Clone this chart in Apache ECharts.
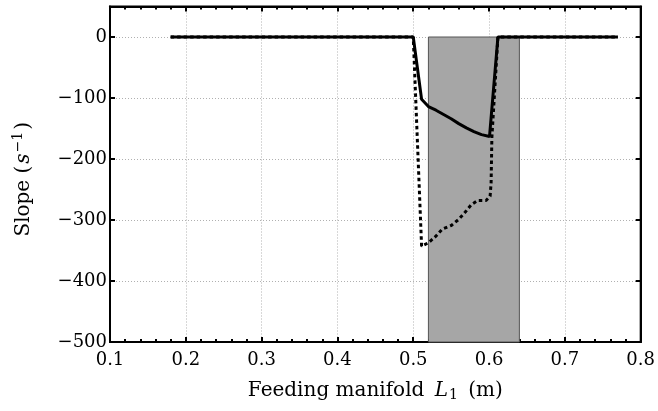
<!DOCTYPE html>
<html>
<head>
<meta charset="utf-8">
<script src="https://cdn.jsdelivr.net/npm/echarts@6/dist/echarts.min.js"></script>
<style>html,body{margin:0;padding:0;background:#fff;}#c{width:658px;height:411px;}</style>
</head>
<body>
<div id="c"></div>
<script>
// Tick labels
var xTicks = [0.1, 0.2, 0.3, 0.4, 0.5, 0.6, 0.7, 0.8];
var yTicks = [-500, -400, -300, -200, -100, 0];
// Shaded band (x range, y range)
var bandX = [0.52, 0.64];
var bandY = [0, -500];
// Solid curve
var solidX = [0.18, 0.50, 0.511, 0.52, 0.53, 0.54, 0.55, 0.56, 0.57, 0.58, 0.59, 0.6006, 0.6117, 0.77];
var solidY = [0, 0, -102, -114, -120, -127, -134, -142, -149, -155, -160, -163, 0, 0];
// Dotted curve
var dotX = [0.18, 0.50, 0.511, 0.5203, 0.5295, 0.5383, 0.5501, 0.560, 0.5686, 0.5765, 0.5852, 0.596, 0.6014, 0.6027, 0.6037, 0.6117, 0.77];
var dotY = [0, 0, -343, -337, -327, -315, -309, -299, -287, -275, -268, -268, -261, -239, -165, 0, 0];

function pairs(xs, ys) { return xs.map(function (x, i) { return [x, ys[i]]; }); }

var FONT = 'DejaVu Serif';
var FS = 18;
var NFS = 20;
var chart = echarts.init(document.getElementById('c'), null, {renderer: 'canvas'});
var axisCommonX = {
  type: 'value', min: xTicks[0], max: xTicks[xTicks.length - 1], interval: 0.1,
  axisLine: {show: true, onZero: false, lineStyle: {color: '#000', width: 2}},
  axisTick: {show: true, inside: true, length: 5, lineStyle: {color: '#000', width: 2}},
  minorTick: {show: true, splitNumber: 5, length: 3, lineStyle: {color: '#000', width: 2}},
  splitLine: {show: false}
};
var axisCommonY = {
  type: 'value', min: yTicks[0], max: 50, interval: 100,
  axisLine: {show: true, onZero: false, lineStyle: {color: '#000', width: 2}},
  axisTick: {show: true, inside: true, length: 5, lineStyle: {color: '#000', width: 2}},
  splitLine: {show: false}
};
var option = {
  animation: false,
  backgroundColor: '#fff',
  grid: {left: 110, right: 17, top: 6.5, bottom: 69, show: true, borderColor: '#000', borderWidth: 2, backgroundColor: 'transparent'},
  xAxis: [
    Object.assign({}, axisCommonX, {
      position: 'bottom',
      splitLine: {show: true, lineStyle: {color: '#b0b0b0', type: [1, 2], width: 1}},
      axisLabel: {show: true, margin: 9, color: '#000', fontFamily: FONT, fontSize: FS,
        formatter: function (v) { return (Math.round(v * 10) / 10).toFixed(1); }},
      name: '{t|Feeding manifold }{i|L}{sub|1}{t| (m)}',
      nameLocation: 'middle', nameGap: 36,
      nameTextStyle: {
        rich: {
          t: {fontFamily: FONT, fontSize: NFS, color: '#000', lineHeight: 26},
          i: {fontFamily: FONT, fontSize: NFS, fontStyle: 'italic', color: '#000', lineHeight: 26, padding: [0, 0, 0, 4]},
          sub: {fontFamily: FONT, fontSize: 14, color: '#000', lineHeight: 14, padding: [9, 4, 0, 1]}
        }
      }
    }),
    Object.assign({}, axisCommonX, {position: 'top', axisLabel: {show: false}})
  ],
  yAxis: [
    Object.assign({}, axisCommonY, {
      position: 'left',
      splitLine: {show: true, lineStyle: {color: '#b0b0b0', type: [1, 2], width: 1}},
      axisLabel: {show: true, margin: 3, color: '#000', fontFamily: FONT, fontSize: FS, showMaxLabel: false,
        formatter: function (v) { return v > 0 ? '' : (v < 0 ? '\u2212' + Math.abs(v) : '0'); }},
      name: '{t|Slope (}{i|s}{sup|\u22121}{e|)}',
      nameLocation: 'middle', nameRotate: 90, nameGap: 73,
      nameTextStyle: {
        rich: {
          t: {fontFamily: FONT, fontSize: NFS, color: '#000', lineHeight: 26},
          e: {fontFamily: FONT, fontSize: NFS, color: '#000', lineHeight: 26, padding: [0, 10, 0, 0]},
          i: {fontFamily: FONT, fontSize: NFS, fontStyle: 'italic', color: '#000', lineHeight: 26, padding: [0, 0, 0, 2]},
          sup: {fontFamily: FONT, fontSize: 14, color: '#000', lineHeight: 14, padding: [0, 2, 11, 1]}
        }
      }
    }),
    Object.assign({}, axisCommonY, {position: 'right', axisLabel: {show: false}})
  ],
  series: [
    {
      type: 'line', data: [], xAxisIndex: 0, yAxisIndex: 0, silent: true, z: 1,
      markArea: {
        silent: true,
        itemStyle: {color: '#a6a6a6', borderColor: '#555', borderWidth: 1},
        data: [[{xAxis: bandX[0], yAxis: bandY[0]}, {xAxis: bandX[1], yAxis: bandY[1]}]]
      }
    },
    {
      type: 'line', data: [], xAxisIndex: 1, yAxisIndex: 1, silent: true
    },
    {
      type: 'line', data: pairs(dotX, dotY), showSymbol: false, symbol: 'none', z: 3,
      lineStyle: {color: '#000', width: 3, type: [3.5, 3]}
    },
    {
      type: 'line', data: pairs(solidX, solidY), showSymbol: false, symbol: 'none', z: 4,
      lineStyle: {color: '#000', width: 3}
    }
  ]
};
chart.setOption(option);
</script>
</body>
</html>
